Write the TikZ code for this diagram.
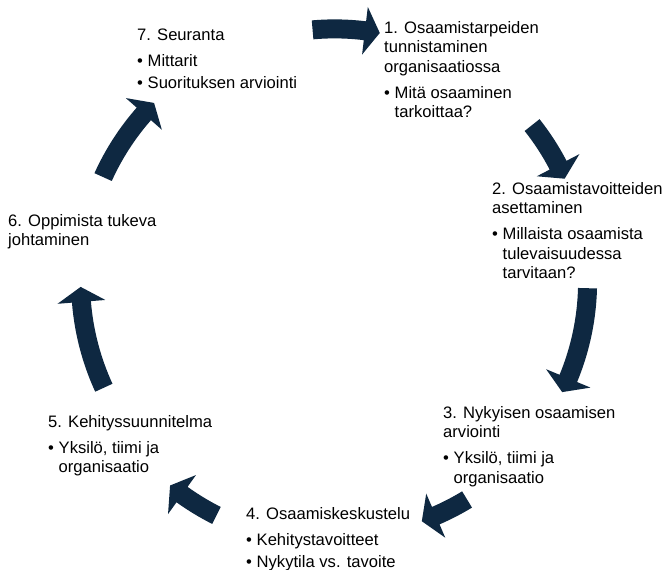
\documentclass[tikz,border=0pt]{standalone}
\usepackage{fontspec}
\setmainfont{Liberation Sans}
\definecolor{navy}{HTML}{0E2841}
\newcommand{\bul}{\makebox[10.5pt][l]{•}}
\newcommand{\ind}{\hspace*{10.5pt}}
\newcommand{\fl}{\rule{0pt}{12.5pt}}
\newcommand{\cycarrow}[3]{%
  \pgfmathsetmacro{\cah}{#2+15/#3*57.2958}%
  \pgfmathsetmacro{\cro}{#3+9.5}%
  \pgfmathsetmacro{\cri}{#3-9.5}%
  \pgfmathsetmacro{\cho}{#3+24}%
  \pgfmathsetmacro{\chi}{#3-24}%
  \fill[arrowfill] (#1:\cro) arc[start angle=#1, end angle=\cah, radius=\cro]
    -- (\cah:\cho) -- (#2:#3) -- (\cah:\chi) -- (\cah:\cri)
    arc[start angle=\cah, end angle=#1, radius=\cri] -- cycle;
}
\begin{document}
\begin{tikzpicture}[x=1pt,y=1pt,
  lbl/.style={anchor=north west, inner sep=0pt, align=left,
    font=\fontsize{16.6}{19.3}\selectfont, text=black},
  arrowfill/.style={fill=navy}]
\fill[white] (0,0) rectangle (667,570);
\useasboundingbox (0,0) rectangle (667,570);

\begin{scope}[shift={(334.6,288.4)}]
  \cycarrow{95}{79.7}{252.7}
  \cycarrow{38.4}{24.1}{252}
  \cycarrow{-1.5}{-25.9}{253}
  \cycarrow{-58.7}{-70}{255}
  \cycarrow{-116.8}{-128.9}{262}
  \cycarrow{-155.3}{-178.8}{254}
  \cycarrow{155.7}{135.3}{254}
\end{scope}

\node[lbl] (s1) at (384,549) {\fl 1. Osaamistarpeiden\\tunnistaminen\\organisaatiossa\\[6.5pt]\bul Mitä osaaminen\\\ind tarkoittaa?};
\node[lbl] (s2) at (492,388) {\fl 2. Osaamistavoitteiden\\asettaminen\\[6.5pt]\bul Millaista osaamista\\\ind tulevaisuudessa\\\ind tarvitaan?};
\node[lbl] (s3) at (443,164) {\fl 3. Nykyisen osaamisen\\arviointi\\[6.5pt]\bul Yksilö, tiimi ja\\\ind organisaatio};
\node[lbl] (s4) at (246,63) {\fl 4. Osaamiskeskustelu\\[6.5pt]\bul Kehitystavoitteet\\[2.5pt]\bul Nykytila vs. tavoite};
\node[lbl] (s5) at (48,155) {\fl 5. Kehityssuunnitelma\\[6.5pt]\bul Yksilö, tiimi ja\\\ind organisaatio};
\node[lbl] (s6) at (8,356) {\fl 6. Oppimista tukeva\\johtaminen};
\node[lbl] (s7) at (137,542) {\fl 7. Seuranta\\[6.5pt]\bul Mittarit\\[2.5pt]\bul Suorituksen arviointi};
\end{tikzpicture}
\end{document}
